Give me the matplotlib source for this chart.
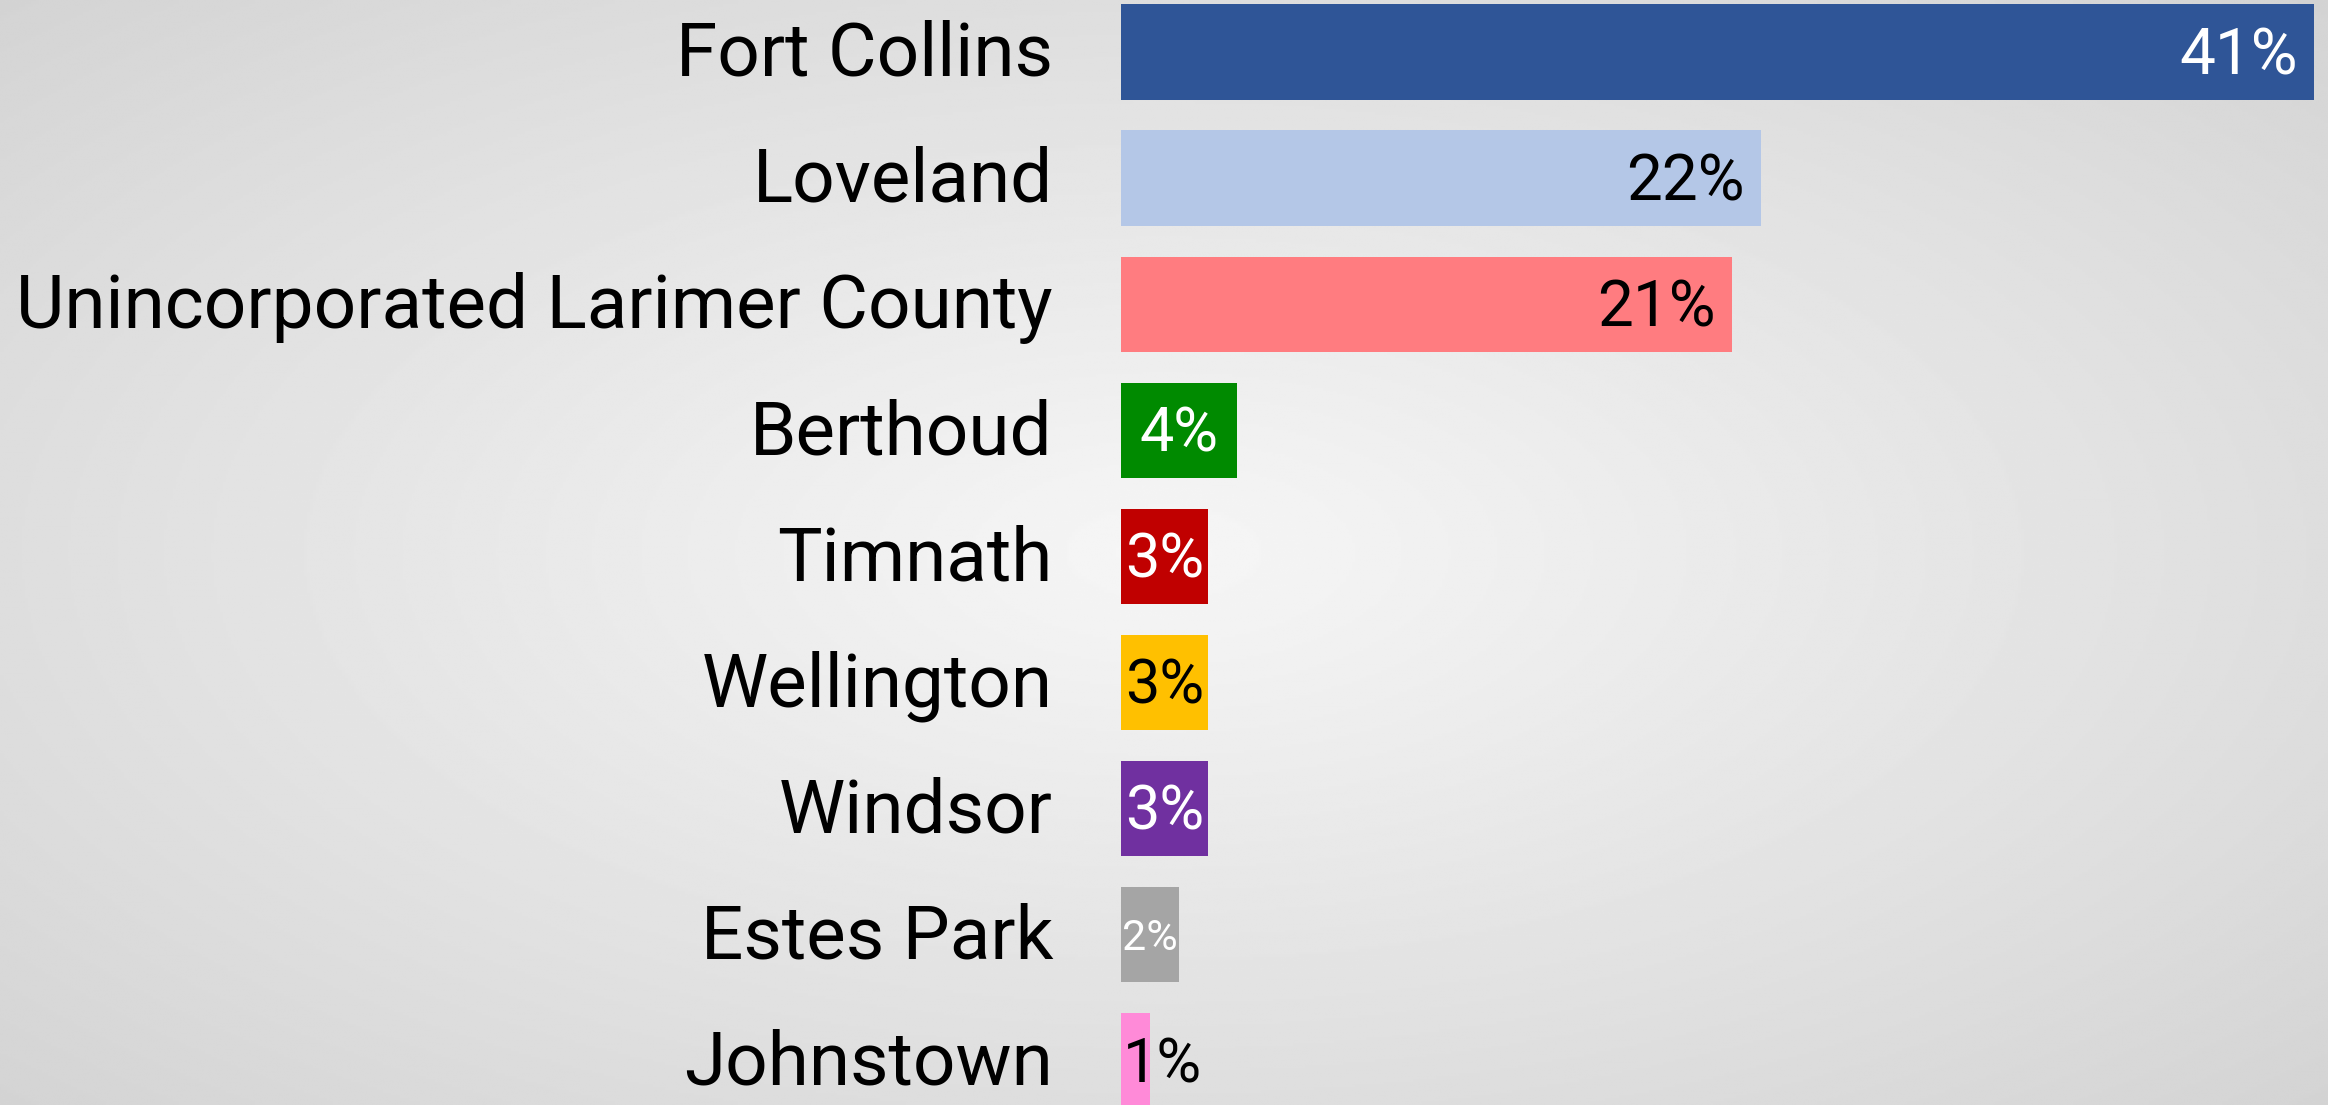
import numpy as np
import matplotlib
matplotlib.use("Agg")
import matplotlib.pyplot as plt
from matplotlib.transforms import ScaledTranslation

plt.rcParams['font.family'] = ['Roboto', 'DejaVu Sans']

places = ["Fort Collins", "Loveland", "Unincorporated Larimer County", "Berthoud",
          "Timnath", "Wellington", "Windsor", "Estes Park", "Johnstown"]
share = [41, 22, 21, 4, 3, 3, 3, 2, 1]
bar_colors = ["#2F5597", "#B4C7E7", "#FF7C80", "#008A00", "#C00000",
              "#FFC000", "#7030A0", "#A5A5A5", "#FF8AD8"]
text_colors = ["white", "black", "black", "white", "white",
               "black", "white", "white", "black"]

fig = plt.figure(figsize=(23.28, 11.05), dpi=100)

# radial grey background
bg = fig.add_axes([0, 0, 1, 1], zorder=0)
yy, xx = np.mgrid[-1:1:400j, -1:1:800j]
r = np.sqrt(xx**2 + yy**2) / np.sqrt(2)
light, dark = 0.965, 0.83
shade = light + (dark - light) * np.clip(r, 0, 1)
bg.imshow(shade, cmap="gray", vmin=0, vmax=1, aspect="auto",
          extent=[0, 1, 0, 1], interpolation="bilinear")
bg.axis("off")

ax = fig.add_axes([1121 / 2328, 0, 1 - 1121 / 2328, 1], zorder=1)
ax.patch.set_alpha(0)
y = np.arange(len(places))
ax.barh(y, share, height=0.755, color=bar_colors)
ax.set_xlim(0, 41.48)
ax.set_ylim(8.35, -0.412)

ax.set_yticks(y)
ax.set_yticklabels(places, fontsize=53.7)
ax.tick_params(axis="y", length=0, pad=49)
# nudge the category names up a little
up = ScaledTranslation(0, 3 / 72, fig.dpi_scale_trans)
for lbl in ax.get_yticklabels():
    lbl.set_transform(lbl.get_transform() + up)
ax.set_xticks([])
for s in ax.spines.values():
    s.set_visible(False)

dy = -3  # points, value labels sit slightly low in the bars
for i, (v, c) in enumerate(zip(share, text_colors)):
    label = f"{v}%"
    if v >= 10:
        x0, dx, ha, fs = v, -12, "right", 46
    elif v == 1:
        x0, dx, ha, fs = 0, 1, "left", 44
    elif v == 2:
        x0, dx, ha, fs = v / 2, 0, "center", 31
    else:
        x0, dx, ha, fs = v / 2, 0, "center", 44
    ax.annotate(label, (x0, i), xytext=(dx, dy), textcoords="offset points",
                ha=ha, va="center", fontsize=fs, color=c)

fig.savefig("out.png", dpi=100)
